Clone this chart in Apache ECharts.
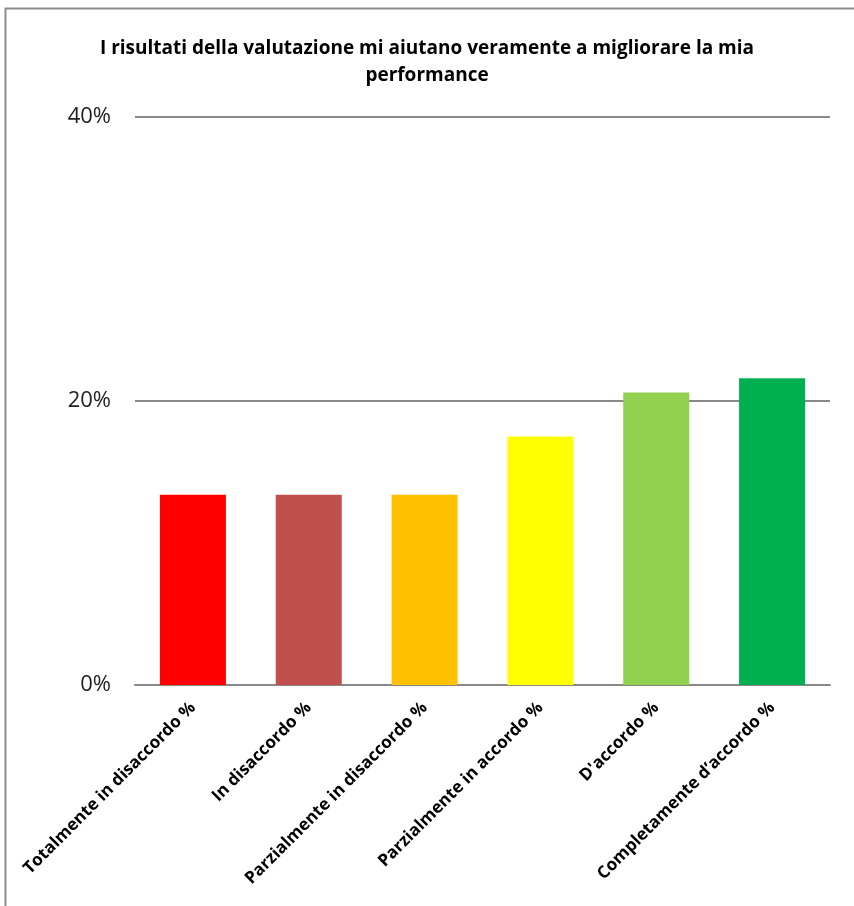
<!DOCTYPE html>
<html><head><meta charset="utf-8">
<script src="https://cdn.jsdelivr.net/npm/echarts@6/dist/echarts.min.js"></script>
<style>html,body{margin:0;padding:0;background:#fff}#c{width:854px;height:906px}</style>
</head><body><div id="c"></div>
<script>
const titleText = 'I risultati della valutazione mi aiutano veramente a migliorare la mia\nperformance';
const categories = ['Totalmente in disaccordo %','In disaccordo %','Parzialmente in disaccordo %','Parzialmente in accordo %',"D'accordo %",'Completamente d\u2019accordo %'];
const values = [13.4, 13.4, 13.4, 17.5, 20.6, 21.6];
const colors = ['#FF0000','#C0504D','#FFC000','#FFFF00','#92D050','#00B050'];
const yTicks = [0, 20, 40];

const chart = echarts.init(document.getElementById('c'));
chart.setOption({
  animation: false,
  backgroundColor: '#fff',
  graphic: [{type:'rect', shape:{x:5.5,y:8.5,width:900,height:950}, style:{fill:'none',stroke:'#8c8c8c',lineWidth:2}}],
  title: {text: titleText, left: 'center', top: 30, textStyle:{fontFamily:'Open Sans', fontWeight:'bold', fontSize:19, color:'#000', lineHeight:27}},
  grid: {left:135, right:24, top:117, bottom:221, containLabel:false},
  xAxis: {type:'category', data: categories,
    axisLine:{lineStyle:{color:'#888', width:2}}, axisTick:{show:false},
    axisLabel:{rotate:45, interval:0, margin:20, fontFamily:'Open Sans', fontWeight:'bold', fontSize:17, color:'#000'}},
  yAxis: {type:'value', min:yTicks[0], max:yTicks[2], interval:20,
    axisLine:{show:false}, axisTick:{show:false},
    splitLine:{lineStyle:{color:'#888', width:2}},
    axisLabel:{formatter:'{value}%', margin:24, fontFamily:'Open Sans', fontSize:22, color:'#222'}},
  series: [{type:'bar', data: values.map((v,i)=>({value:v, itemStyle:{color:colors[i]}})), barCategoryGap:'43%'}]
});
</script></body></html>
